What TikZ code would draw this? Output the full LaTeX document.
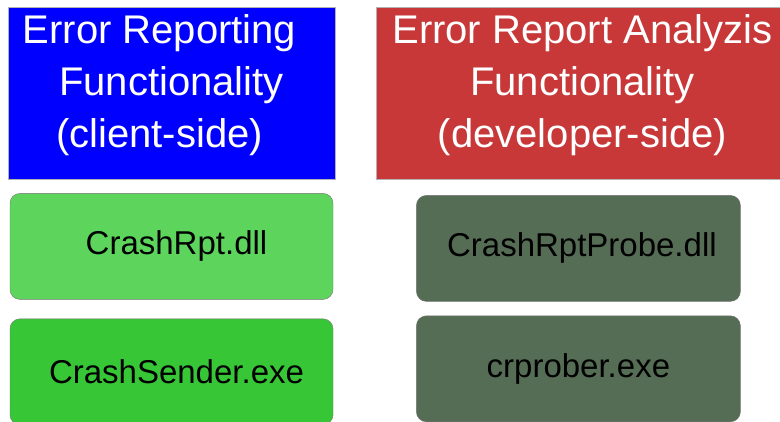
\documentclass[tikz,border=0pt]{standalone}
\usepackage{fontspec}
\setmainfont{Liberation Sans}
\usetikzlibrary{positioning}
\definecolor{clientblue}{HTML}{0000FF}
\definecolor{devred}{HTML}{C83838}
\definecolor{dllgreen}{HTML}{5DD55D}
\definecolor{exegreen}{HTML}{36C636}
\definecolor{probegreen}{HTML}{566D55}
\begin{document}
\begin{tikzpicture}[
        x=1pt, y=1pt,
        head/.style={rectangle, draw=gray!60, minimum height=172pt, text=white, align=center, text depth=24pt, font=\fontsize{40}{52}\selectfont},
        module/.style={rectangle, rounded corners=10pt, draw=gray!90!black, minimum width=323pt, minimum height=106pt, font=\fontsize{33}{38}\selectfont}
    ]
        \useasboundingbox (0,0) rectangle (780,-421);

        \node[head, fill=clientblue, minimum width=327pt] (client) at (171.5,-93) {Error Reporting\hspace*{24pt}\\Functionality\hspace*{24pt}\\(client-side)\hspace*{24pt}};
        \node[head, fill=devred, minimum width=412pt, right=41pt of client] (developer) {Error Report Analyzis\\Functionality\\(developer-side)};

        \node[module, fill=dllgreen, below=14pt of client] (crashrpt) {\hspace*{10pt}CrashRpt.dll};
        \node[module, fill=exegreen, below=19pt of crashrpt] (sender) {\hspace*{10pt}CrashSender.exe};
        \node[module, fill=probegreen, minimum width=324pt, below=16pt of developer, xshift=-4pt] (probe) {\hspace*{7pt}CrashRptProbe.dll};
        \node[module, fill=probegreen, minimum width=324pt, below=14pt of probe] (prober) {crprober.exe};
    \end{tikzpicture}
\end{document}
